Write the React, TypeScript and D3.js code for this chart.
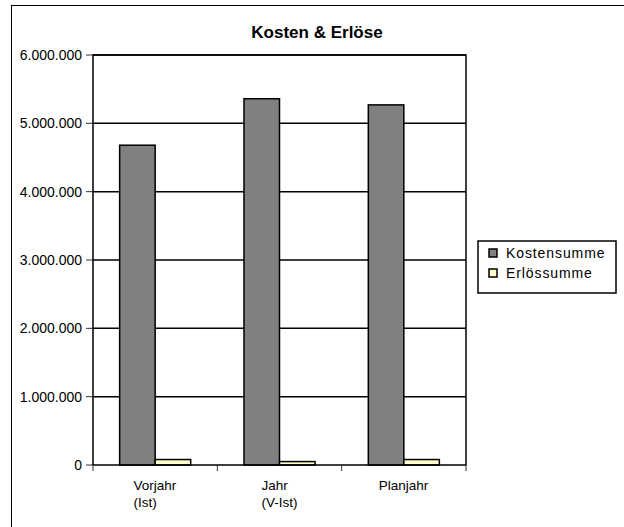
import React, { useEffect, useRef } from "react";
import * as d3 from "d3";

const categories: string[][] = [["Vorjahr", "(Ist)"], ["Jahr", "(V-Ist)"], ["Planjahr"]];
const seriesNames = ["Kostensumme", "Erlössumme"];
const kosten = [4680000, 5360000, 5270000];
const erloese = [80000, 50000, 80000];
const yTicks = [0, 1000000, 2000000, 3000000, 4000000, 5000000, 6000000];
const title = "Kosten & Erlöse";

const colors = ["#808080", "#FFFFCC"];

export default function App() {
  const ref = useRef<SVGSVGElement>(null);

  useEffect(() => {
    const svg = d3.select(ref.current);
    svg.selectAll("*").remove();
    const font = "'Liberation Sans', Arial, sans-serif";

    const left = 93, right = 466, top = 55, bottom = 465;

    // outer frame
    svg.append("rect").attr("x", 11.5).attr("y", 5.5).attr("width", 700).attr("height", 700)
      .attr("fill", "white").attr("stroke", "black").attr("stroke-width", 1);

    svg.append("text").attr("x", 317).attr("y", 38).attr("text-anchor", "middle")
      .attr("font-family", font).attr("font-weight", "bold").attr("font-size", 17)
      .text(title);

    const y = d3.scaleLinear().domain([0, 6000000]).range([bottom, top]);
    const x0 = d3.scaleBand<number>().domain(d3.range(categories.length)).range([left, right]).paddingInner(0).paddingOuter(0);
    const bw = x0.bandwidth();
    const barW = bw / 3.5;
    const gap = (bw - 2 * barW) / 2;

    const fmt = (v: number) => d3.format(",")(v).replace(/,/g, ".");

    // gridlines
    svg.append("g").selectAll("line").data(yTicks.slice(1)).join("line")
      .attr("x1", left).attr("x2", right).attr("y1", (d) => y(d)).attr("y2", (d) => y(d))
      .attr("stroke", "black").attr("stroke-width", 1.5);

    // y ticks and labels
    const yg = svg.append("g");
    yg.selectAll("line").data(yTicks).join("line")
      .attr("x1", left - 7).attr("x2", left).attr("y1", (d) => y(d)).attr("y2", (d) => y(d))
      .attr("stroke", "#333").attr("stroke-width", 1);
    yg.selectAll("text").data(yTicks).join("text")
      .attr("x", 82).attr("y", (d) => y(d) + 5).attr("text-anchor", "end")
      .attr("font-family", font).attr("font-size", 14)
      .text((d) => fmt(d));

    // bars
    const series = [kosten, erloese];
    series.forEach((vals, si) => {
      svg.append("g").selectAll("rect").data(vals).join("rect")
        .attr("x", (_d, i) => (x0(i) as number) + gap + si * barW)
        .attr("y", (d) => y(d))
        .attr("width", barW)
        .attr("height", (d) => bottom - y(d))
        .attr("fill", colors[si]).attr("stroke", "black").attr("stroke-width", 1.5);
    });

    // plot border
    svg.append("rect").attr("x", left).attr("y", top).attr("width", right - left).attr("height", bottom - top)
      .attr("fill", "none").attr("stroke", "black").attr("stroke-width", 1.5);

    // x ticks
    const xt = d3.range(categories.length + 1).map((i) => left + i * bw);
    svg.append("g").selectAll("line").data(xt).join("line")
      .attr("x1", (d) => d).attr("x2", (d) => d).attr("y1", bottom).attr("y2", bottom + 6)
      .attr("stroke", "#333").attr("stroke-width", 1);

    // x labels
    categories.forEach((lines, i) => {
      const cx = (x0(i) as number) + bw / 2;
      const t = svg.append("text").attr("font-family", font).attr("font-size", 13.5);
      lines.forEach((ln, li) => {
        t.append("tspan").attr("x", 0).attr("y", 490 + li * 17).text(ln);
      });
      const w = (t.node() as SVGTextElement).getBBox().width;
      t.attr("transform", `translate(${cx - w / 2},0)`);
    });

    // legend
    svg.append("rect").attr("x", 478).attr("y", 241).attr("width", 138).attr("height", 52)
      .attr("fill", "white").attr("stroke", "black").attr("stroke-width", 1.5);
    seriesNames.forEach((name, i) => {
      const cy = 253 + i * 20;
      svg.append("rect").attr("x", 489).attr("y", cy - 4).attr("width", 8).attr("height", 8)
        .attr("fill", colors[i]).attr("stroke", "black").attr("stroke-width", 1.5);
      svg.append("text").attr("x", 506).attr("y", cy + 5)
        .attr("font-family", font).attr("font-size", 14).attr("letter-spacing", 0.9)
        .text(name);
    });
  }, []);

  return (
    <svg ref={ref} width={624} height={527}
      style={{ position: "absolute", left: 0, top: 0, display: "block", background: "white" }} />
  );
}
